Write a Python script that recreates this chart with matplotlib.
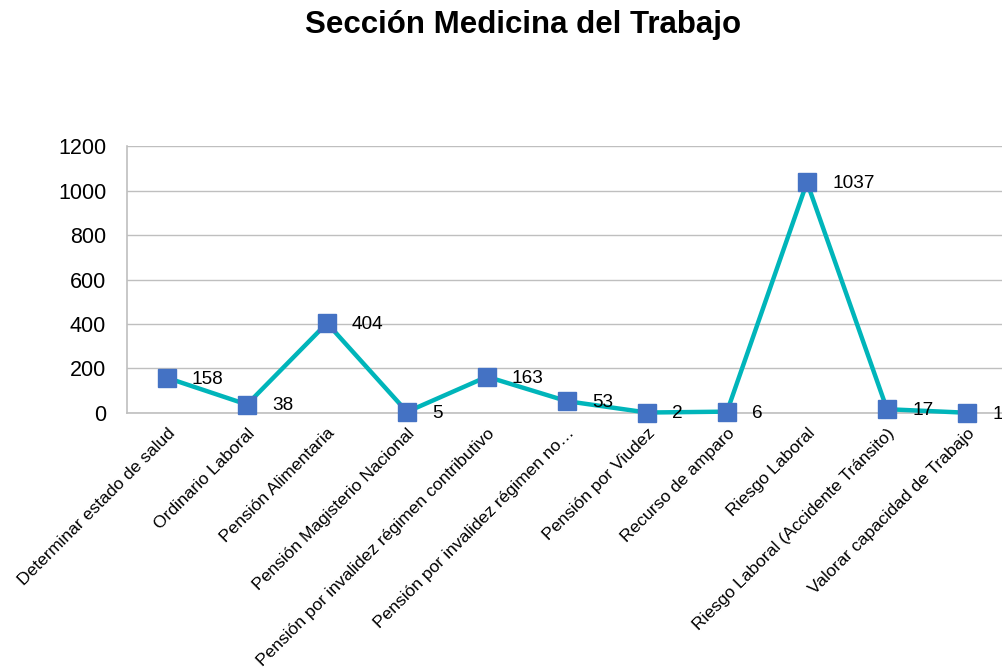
import matplotlib
matplotlib.use("Agg")
import matplotlib.pyplot as plt

categories = [
    "Determinar estado de salud",
    "Ordinario Laboral",
    "Pensión Alimentaria",
    "Pensión Magisterio Nacional",
    "Pensión por invalidez régimen contributivo",
    "Pensión por invalidez régimen no…",
    "Pensión por Viudez",
    "Recurso de amparo",
    "Riesgo Laboral",
    "Riesgo Laboral (Accidente Tránsito)",
    "Valorar capacidad de Trabajo",
]
values = [158, 38, 404, 5, 163, 53, 2, 6, 1037, 17, 1]
yticks = [0, 200, 400, 600, 800, 1000, 1200]

plt.rcParams['font.family'] = ['Liberation Sans', 'DejaVu Sans']

fig = plt.figure(figsize=(10.03, 6.69), dpi=100)
ax = fig.add_axes([0.1266, 0.3827, 0.8774, 0.399])

x = list(range(len(categories)))
ax.plot(x, values, color='#00B5BA', linewidth=3.2, marker='s', markersize=12.5,
        markerfacecolor='#4472C4', markeredgecolor='#4472C4', zorder=3, clip_on=False)

for xi, v in zip(x, values):
    ax.annotate(str(v), (xi, v), xytext=(18, -1), textcoords='offset points',
                ha='left', va='center', fontsize=13.7, color='#000000', zorder=4,
                annotation_clip=False)

ax.set_xlim(-0.5, 10.5)
ax.set_ylim(0, 1200)
ax.set_yticks(yticks)
ax.set_yticklabels([str(t) for t in yticks], fontsize=15.5)
ax.yaxis.grid(True, color='#BFBFBF', linewidth=1)
ax.set_axisbelow(True)
ax.tick_params(axis='y', length=0, pad=15)
ax.tick_params(axis='x', length=0, pad=9)
ax.set_xticks(x)
ax.set_xticklabels(categories, rotation=45, ha='right', rotation_mode='anchor', fontsize=12.6)

for s in ['top', 'right']:
    ax.spines[s].set_visible(False)
for s in ['left', 'bottom']:
    ax.spines[s].set_color('#BFBFBF')
    ax.spines[s].set_linewidth(1.2)

fig.text(0.5215, 0.962, "Sección Medicina del Trabajo", ha='center', va='center',
         fontsize=22.5, fontweight='bold')

fig.savefig("out.png", dpi=100)
